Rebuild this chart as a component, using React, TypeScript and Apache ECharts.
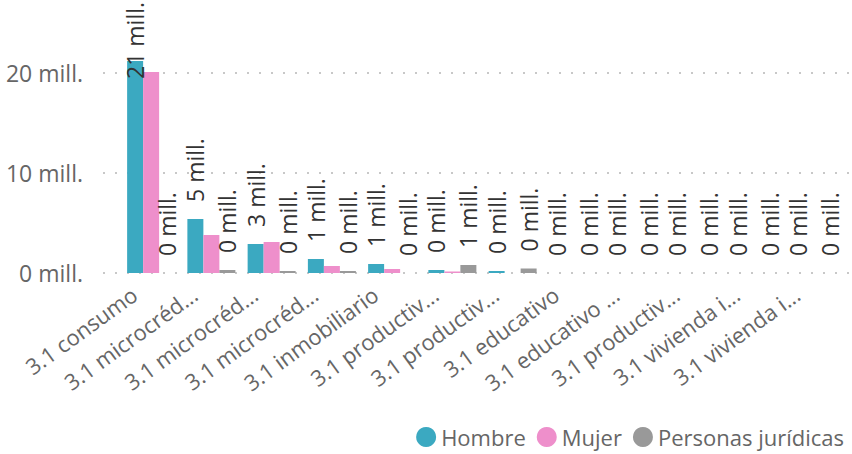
import React, { useEffect, useRef } from "react";
import * as echarts from "echarts";

const categories = [
  "3.1 consumo",
  "3.1 microcréd...",
  "3.1 microcréd...",
  "3.1 microcréd...",
  "3.1 inmobiliario",
  "3.1 productiv...",
  "3.1 productiv...",
  "3.1 educativo",
  "3.1 educativo ...",
  "3.1 productiv...",
  "3.1 vivienda i...",
  "3.1 vivienda i...",
];
const hombre = [21.2, 5.4, 2.9, 1.4, 0.9, 0.3, 0.2, 0, 0, 0, 0, 0];
const mujer = [20.1, 3.8, 3.1, 0.7, 0.4, 0.15, 0, 0, 0, 0, 0, 0];
const personasJuridicas = [0, 0.3, 0.2, 0.2, 0, 0.8, 0.45, 0, 0, 0, 0, 0];
const yTicks = [0, 10, 20];
const seriesNames = ["Hombre", "Mujer", "Personas jurídicas"];
const colors = ["#3BA9C1", "#EE8FCB", "#999999"];

const FONT = "'Open Sans', 'Noto Sans', sans-serif";
const Y_MAX = 25;

function labelled(values: number[]) {
  return values.map((v) => {
    if (v > 18) {
      return { value: v, label: { distance: -18 } };
    }
    return v;
  });
}

export default function App() {
  const ref = useRef<HTMLDivElement>(null);
  useEffect(() => {
    if (!ref.current) return;
    const chart = echarts.init(ref.current, null, { renderer: "svg" });
    const dataLabel = {
      show: true,
      position: "top",
      rotate: 90,
      align: "left",
      verticalAlign: "middle",
      distance: 17,
      fontSize: 23,
      fontFamily: FONT,
      color: "#333333",
      formatter: (p: any) => `${Math.round(p.value)} mill.`,
    };
    chart.setOption({
      animation: false,
      textStyle: { fontFamily: FONT },
      legend: {
        data: seriesNames,
        icon: "circle",
        itemWidth: 20,
        itemHeight: 20,
        itemGap: 11,
        right: 3,
        top: 421,
        textStyle: { fontSize: 22, color: "#666666", fontFamily: FONT },
      },
      grid: [
        { left: 103, right: 0, top: 273 - Y_MAX * 10, bottom: 181 },
        { left: 121, right: 8, top: 273 - Y_MAX * 10, bottom: 181 },
      ],
      xAxis: [
        { gridIndex: 0, type: "value", show: false, min: 0, max: 1 },
        {
          gridIndex: 1,
          type: "category",
          data: categories.map((_, i) => String(i)),
          axisLine: { show: false },
          axisTick: { show: false },
          axisLabel: {
            interval: 0,
            rotate: 36,
            margin: 6,
            fontSize: 22,
            color: "#666666",
            fontFamily: FONT,
            padding: [0, 21, 0, 0],
            formatter: (_v: string, i: number) => categories[i],
          },
        },
      ],
      yAxis: [
        {
          gridIndex: 0,
          type: "value",
          min: 0,
          max: Y_MAX,
          interval: 10,
          axisLine: { show: false },
          axisTick: { show: false },
          axisLabel: {
            margin: 20,
            fontSize: 23,
            color: "#666666",
            fontFamily: FONT,
            showMaxLabel: false,
            formatter: (v: number) => (yTicks.includes(v) ? `${v} mill.` : ""),
          },
          splitLine: {
            show: true,
            showMaxLine: false,
            lineStyle: { color: "#C8C8C8", width: 2, type: [2, 10] },
          },
        },
        { gridIndex: 1, type: "value", min: 0, max: Y_MAX, show: false },
      ],
      series: [
        {
          name: seriesNames[0],
          type: "bar",
          xAxisIndex: 1,
          yAxisIndex: 1,
          data: labelled(hombre),
          barWidth: 16,
          barGap: "0%",
          itemStyle: { color: colors[0] },
          label: dataLabel,
        },
        {
          name: seriesNames[1],
          type: "bar",
          xAxisIndex: 1,
          yAxisIndex: 1,
          data: mujer,
          barWidth: 16,
          barGap: "0%",
          itemStyle: { color: colors[1] },
        },
        {
          name: seriesNames[2],
          type: "bar",
          xAxisIndex: 1,
          yAxisIndex: 1,
          data: labelled(personasJuridicas),
          barWidth: 16,
          barGap: "0%",
          itemStyle: { color: colors[2] },
          label: dataLabel,
        },
      ],
    });
    return () => chart.dispose();
  }, []);
  return (
    <div
      ref={ref}
      style={{ position: "fixed", left: 0, top: 0, width: 852, height: 454, background: "#fff" }}
    />
  );
}
